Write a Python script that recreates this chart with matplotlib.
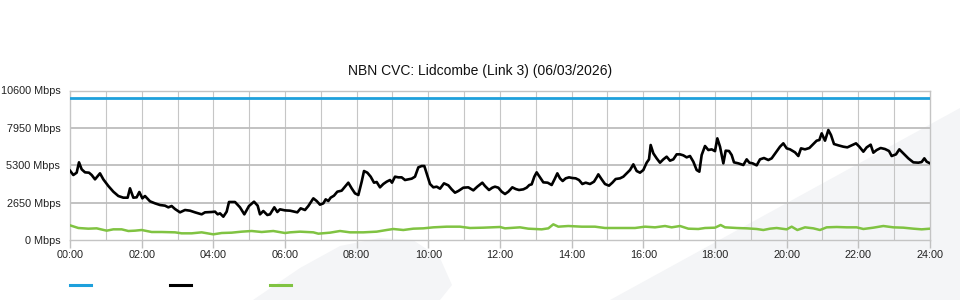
import matplotlib
matplotlib.use("Agg")
import matplotlib.pyplot as plt
from matplotlib.patches import Polygon
from matplotlib.lines import Line2D

plt.rcParams['font.family'] = ['Liberation Sans', 'DejaVu Sans']

title = "NBN CVC: Lidcombe (Link 3) (06/03/2026)"
y_ticks = [0, 2650, 5300, 7950, 10600]
y_tick_labels = ["0 Mbps", "2650 Mbps", "5300 Mbps", "7950 Mbps", "10600 Mbps"]
x_ticks = list(range(0, 25, 2))
x_tick_labels = ["%02d:00" % h for h in x_ticks]

capacity_hours = [0, 24]
capacity_mbps = [10040, 10040]

black_hours = [
    0.000, 0.093, 0.186, 0.251, 0.326, 0.419, 0.530, 0.605, 0.698, 0.837, 0.930,
    1.070, 1.209, 1.349, 1.488, 1.609, 1.674, 1.767, 1.860, 1.935, 2.019, 2.093,
    2.233, 2.372, 2.512, 2.651, 2.744, 2.837, 2.930, 3.070, 3.209, 3.349, 3.488,
    3.674, 3.767, 3.953, 4.047, 4.121, 4.186, 4.279, 4.372, 4.437, 4.605, 4.744,
    4.865, 4.995, 5.135, 5.237, 5.302, 5.395, 5.507, 5.581, 5.702, 5.786, 5.860,
    6.000, 6.140, 6.344, 6.437, 6.558, 6.651, 6.791, 6.884, 6.977, 7.070, 7.135,
    7.209, 7.274, 7.367, 7.460, 7.581, 7.674, 7.767, 7.860, 7.953, 8.047, 8.140,
    8.205, 8.298, 8.391, 8.484, 8.558, 8.651, 8.744, 8.837, 8.930, 8.986, 9.070,
    9.163, 9.256, 9.349, 9.442, 9.535, 9.628, 9.721, 9.814, 9.888, 9.953, 10.047,
    10.140, 10.233, 10.326, 10.437, 10.558, 10.651, 10.744, 10.837, 10.977, 11.116,
    11.256, 11.367, 11.507, 11.581, 11.693, 11.786, 11.860, 11.953, 12.047, 12.140,
    12.233, 12.344, 12.437, 12.530, 12.651, 12.744, 12.819, 12.884, 12.958, 13.023,
    13.116, 13.209, 13.330, 13.442, 13.535, 13.600, 13.674, 13.749, 13.833, 13.926,
    14.019, 14.112, 14.205, 14.298, 14.391, 14.512, 14.623, 14.698, 14.744, 14.837,
    14.930, 15.042, 15.135, 15.228, 15.349, 15.442, 15.535, 15.628, 15.721, 15.814,
    15.907, 16.000, 16.093, 16.158, 16.205, 16.279, 16.372, 16.465, 16.558, 16.651,
    16.744, 16.837, 16.930, 17.023, 17.116, 17.209, 17.302, 17.395, 17.488, 17.563,
    17.628, 17.721, 17.814, 17.907, 18.000, 18.065, 18.140, 18.233, 18.298, 18.391,
    18.465, 18.530, 18.651, 18.791, 18.884, 18.958, 19.051, 19.163, 19.256, 19.367,
    19.488, 19.581, 19.693, 19.814, 19.907, 20.000, 20.093, 20.233, 20.326, 20.400,
    20.512, 20.633, 20.744, 20.837, 20.912, 20.977, 21.070, 21.163, 21.237, 21.321,
    21.442, 21.581, 21.693, 21.814, 21.935, 22.028, 22.140, 22.233, 22.344, 22.419,
    22.512, 22.623, 22.744, 22.856, 22.930, 23.051, 23.144, 23.256, 23.395, 23.535,
    23.674, 23.767, 23.842, 23.907, 24.000]
black_mbps = [
    4915, 4608, 4773, 5506, 5010, 4797, 4773, 4608, 4301, 4726, 4301,
    3828, 3426, 3119, 3001, 3001, 3663, 3001, 3025, 3403, 2954, 3119,
    2741, 2599, 2481, 2434, 2316, 2410, 2198, 1961, 2127, 2079, 1961,
    1820, 1961, 1985, 2009, 1820, 1890, 1654, 2009, 2694, 2694, 2316,
    1820, 2410, 2717, 2434, 1820, 2056, 1772, 1820, 2316, 1985, 2174,
    2100, 2079, 1961, 2245, 2127, 2410, 2954, 2765, 2505, 2599, 2883,
    2765, 3001, 3143, 3426, 3497, 3781, 4064, 3663, 3308, 3190, 4135,
    4891, 4773, 4490, 4064, 4112, 3734, 3970, 4135, 4253, 4064, 4490,
    4442, 4442, 4253, 4301, 4348, 4490, 5151, 5246, 5246, 4726, 3970,
    3734, 3781, 3639, 4017, 3875, 3592, 3355, 3474, 3710, 3734,
    3521, 3781, 4064, 3828, 3545, 3710, 3781, 3710, 3426, 3261,
    3426, 3734, 3615, 3545, 3592, 3710, 3899, 3946, 4490, 4797,
    4442, 4088, 4064, 3899, 4372, 4726, 4372, 4183, 4372, 4442,
    4395, 4372, 4253, 3970, 4064, 3970, 4135, 4442, 4655, 4301,
    3970, 3852, 4064, 4324, 4372, 4490, 4726, 4962, 5364, 4891,
    4773, 4962, 5482, 5718, 6735, 6144, 5789, 5482, 5718, 5908,
    5624, 5718, 6073, 6073, 6002, 5860, 5955, 5553, 4962, 4844,
    6026, 6664, 6380, 6427, 6300, 7207, 6616, 5435, 6333, 6309,
    6026, 5506, 5435, 5317, 5718, 5482, 5435, 5293, 5718, 5813,
    5671, 5789, 6191, 6616, 6853, 6498, 6427, 6215, 5955, 6498,
    6427, 6522, 6805, 7042, 7089, 7562, 7042, 7798, 7443, 6805,
    6711, 6616, 6569, 6711, 6853, 6616, 6262, 6569, 6758, 6191,
    6380, 6522, 6451, 6309, 5955, 6073, 6427, 6144, 5789, 5506,
    5482, 5529, 5789, 5553, 5435]

green_hours = [
    0.000, 0.233, 0.512, 0.744, 1.023, 1.209, 1.442, 1.628, 1.814, 2.000, 2.279,
    2.558, 2.930, 3.116, 3.395, 3.674, 4.000, 4.233, 4.512, 4.791, 5.070, 5.349,
    5.674, 6.000, 6.140, 6.419, 6.791, 6.930, 7.256, 7.535, 7.814, 8.186, 8.558,
    8.837, 9.023, 9.302, 9.581, 9.860, 10.140, 10.512, 10.884, 11.163, 11.535,
    12.000, 12.140, 12.558, 12.791, 13.163, 13.349, 13.488, 13.628, 13.907, 14.279,
    14.651, 14.930, 15.395, 15.767, 16.047, 16.326, 16.605, 16.791, 17.023, 17.256,
    17.535, 17.721, 18.000, 18.158, 18.279, 18.605, 18.884, 19.163, 19.349, 19.535,
    19.721, 20.000, 20.140, 20.298, 20.512, 20.744, 20.930, 21.116, 21.395, 21.674,
    21.953, 22.140, 22.419, 22.698, 22.977, 23.256, 23.535, 23.767, 24.000]
green_mbps = [
    1040, 851, 803, 827, 662, 756, 756, 638, 662, 709, 567,
    567, 543, 473, 473, 543, 402, 496, 520, 591, 638, 567,
    638, 496, 543, 591, 543, 449, 520, 638, 543, 543, 591,
    709, 780, 709, 803, 827, 898, 945, 945, 851, 874,
    922, 827, 898, 803, 756, 827, 1111, 945, 992, 945,
    945, 851, 851, 851, 945, 898, 992, 898, 992, 803,
    780, 851, 874, 1063, 898, 851, 827, 780, 709, 803,
    851, 756, 945, 709, 898, 827, 709, 898, 922, 898,
    898, 780, 874, 992, 898, 874, 803, 756, 803]

W, H = 960, 300
fig = plt.figure(figsize=(W / 100, H / 100), dpi=100)
fig.patch.set_facecolor("white")

shade = "#f4f5f7"
band = [(610 / W, 0), (1.0, 1 - 108 / H), (1.0, 0)]
blob = [(253 / W, 0), (300 / W, 1 - 268 / H), (340 / W, 1 - 246 / H),
        (380 / W, 1 - 238 / H), (413 / W, 1 - 240 / H), (440 / W, 1 - 258 / H),
        (452 / W, 1 - 285 / H), (440 / W, 0)]
for pts in (band, blob):
    fig.patches.append(Polygon(pts, closed=True, transform=fig.transFigure,
                               facecolor=shade, edgecolor="none", zorder=-5))

left, right = 70 / W, 930 / W
bottom, top = 1 - 240 / H, 1 - 90.5 / H
ax = fig.add_axes([left, bottom, right - left, top - bottom])
ax.set_facecolor("none")
ax.set_xlim(0, 24)
ax.set_ylim(0, 10600)

for h in range(1, 24):
    ax.axvline(h, color="#c6c6c6", lw=0.8, zorder=1)
for v in y_ticks[1:-1]:
    ax.axhline(v, color="#bdbdbd", lw=1.3, zorder=1)

ax.plot(capacity_hours, capacity_mbps, color="#1ea0dc", lw=2.0, zorder=3)
ax.plot(green_hours, green_mbps, color="#80c342", lw=1.8, zorder=3)
ax.plot(black_hours, black_mbps, color="#000000", lw=1.9, zorder=4)

ax.set_xticks(x_ticks)
ax.set_xticklabels(x_tick_labels, fontsize=7.8, color="#222222")
ax.set_yticks(y_ticks)
ax.set_yticklabels(y_tick_labels, fontsize=7.8, color="#222222")
ax.tick_params(axis="x", length=6, width=1, color="#c0c0c0", pad=1.5)
ax.tick_params(axis="y", length=0, pad=7)
for s in ax.spines.values():
    s.set_color("#c4c4c4")
    s.set_linewidth(1)

fig.text(480 / W, 1 - 71 / H, title, ha="center", va="center",
         fontsize=10, color="#111111")

for x0, c in ((70, "#1ea0dc"), (170, "#000000"), (270, "#80c342")):
    fig.add_artist(Line2D([x0 / W, (x0 + 21) / W], [1 - 285 / H, 1 - 285 / H],
                          transform=fig.transFigure, color=c, lw=2.2))

fig.savefig("out.png", dpi=100)
